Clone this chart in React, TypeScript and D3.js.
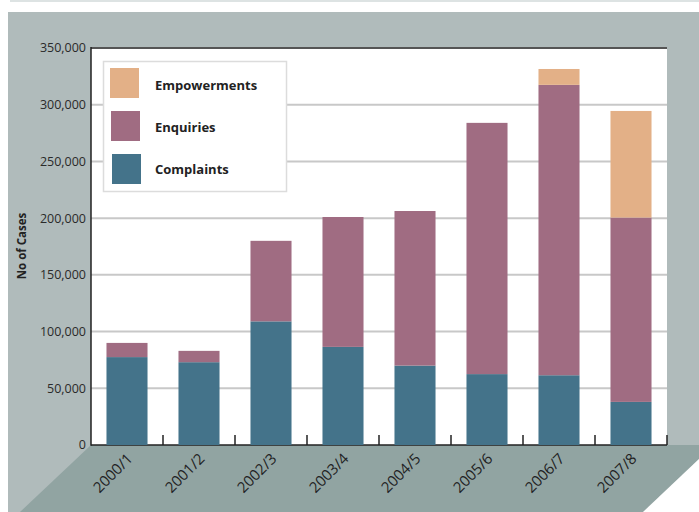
import * as d3 from "d3";

const years = ["2000/1", "2001/2", "2002/3", "2003/4", "2004/5", "2005/6", "2006/7", "2007/8"];
const complaints = [77500, 73000, 109000, 86500, 70000, 62500, 61500, 38000];
const enquiries = [12500, 10000, 71000, 114500, 136300, 221500, 256000, 162500];
const empowerments = [0, 0, 0, 0, 0, 0, 14000, 94000];
const yTicks = [0, 50000, 100000, 150000, 200000, 250000, 300000, 350000];

const seriesKeys = ["complaints", "enquiries", "empowerments"] as const;
const seriesNames = { complaints: "Complaints", enquiries: "Enquiries", empowerments: "Empowerments" };
const colors = { complaints: "#44738a", enquiries: "#a06c82", empowerments: "#e3b087" };

const W = 699;
const H = 512;
const plot = { left: 91, right: 667, top: 48, bottom: 445 };

export default function App() {
  const rows = years.map((y, i) => ({
    year: y,
    complaints: complaints[i],
    enquiries: enquiries[i],
    empowerments: empowerments[i],
  }));
  const stacked = d3.stack<any>().keys(seriesKeys as any)(rows);

  const x = d3.scaleBand<string>().domain(years).range([plot.left, plot.right]).paddingInner(0.43).paddingOuter(0.215);
  const band = d3.scaleBand<string>().domain(years).range([plot.left, plot.right]);
  const y = d3.scaleLinear().domain([0, 350000]).range([plot.bottom, plot.top]);
  const fmt = d3.format(",");
  const font = "'Open Sans', 'DejaVu Sans', sans-serif";

  const legendItems = ["empowerments", "enquiries", "complaints"] as const;

  return (
    <svg width={W} height={H} style={{ position: "absolute", left: 0, top: 0 }} fontFamily={font}>
      <rect x={0} y={0} width={W} height={H} fill="#fff" />
      <rect x={10} y={0} width={W - 10} height={2} fill="#dde3e3" />
      {/* back panel */}
      <rect x={8} y={12} width={W - 8} height={H - 12} fill="#b0bbbb" />
      {/* floor */}
      <polygon points={`${plot.left},${plot.bottom} ${W},${plot.bottom} ${W},459 643,${H} 20,${H}`} fill="#91a4a2" />
      <polygon points={`${W},459 ${W},${H} 643,${H}`} fill="#fff" />
      {/* plot area */}
      <rect x={plot.left} y={plot.top} width={plot.right - plot.left} height={plot.bottom - plot.top} fill="#fff" />
      {yTicks.slice(1, -1).map((t) => (
        <line key={t} x1={plot.left} x2={plot.right} y1={y(t)} y2={y(t)} stroke="#c8c8c8" strokeWidth={2} />
      ))}
      <line x1={plot.left} x2={plot.right} y1={plot.top} y2={plot.top} stroke="#555" strokeWidth={2} />
      <line x1={plot.left} x2={plot.right} y1={plot.bottom} y2={plot.bottom} stroke="#222" strokeWidth={1.5} />
      <line x1={plot.left} x2={plot.left} y1={plot.top - 1} y2={plot.bottom + 0.75} stroke="#222" strokeWidth={1.5} />
      {years.slice(1).map((yr) => (
        <line key={yr} x1={band(yr)!} x2={band(yr)!} y1={plot.bottom - 10} y2={plot.bottom} stroke="#222" strokeWidth={1.5} />
      ))}
      <line x1={plot.right} x2={plot.right} y1={plot.bottom - 10} y2={plot.bottom} stroke="#222" strokeWidth={1.5} />
      {/* bars */}
      {stacked.map((s) => (
        <g key={s.key} fill={colors[s.key as keyof typeof colors]}>
          {s.map((d) =>
            d[1] > d[0] ? (
              <rect key={d.data.year} x={x(d.data.year)!} width={x.bandwidth()} y={y(d[1])} height={y(d[0]) - y(d[1])} />
            ) : null
          )}
        </g>
      ))}
      {/* y tick labels */}
      {yTicks.map((t) => (
        <text key={t} x={86} y={y(t)} dy="0.35em" textAnchor="end" fontSize={12.5} fill="#2a2a2a">
          {fmt(t)}
        </text>
      ))}
      <text transform={`translate(26,246) rotate(-90)`} textAnchor="middle" fontSize={11.5} fontWeight="bold" fill="#222">
        No of Cases
      </text>
      {/* x labels */}
      {years.map((yr) => {
        const cx = band(yr)! + band.bandwidth() / 2;
        return (
          <text key={yr} transform={`translate(${cx - 1},452) rotate(-45)`} textAnchor="end" dy="0.72em" fontSize={15} fill="#222">
            {yr}
          </text>
        );
      })}
      {/* legend */}
      <rect x={103.5} y={61.5} width={183} height={130} fill="#fff" stroke="#dcdcdc" strokeWidth={1.5} />
      {legendItems.map((k, i) => (
        <g key={k}>
          <rect x={110 + i} y={68 + i * 43} width={29} height={30} fill={colors[k]} />
          <text x={155} y={85 + i * 42} dy="0.35em" fontSize={13} fontWeight="bold" fill="#222">
            {seriesNames[k]}
          </text>
        </g>
      ))}
    </svg>
  );
}
